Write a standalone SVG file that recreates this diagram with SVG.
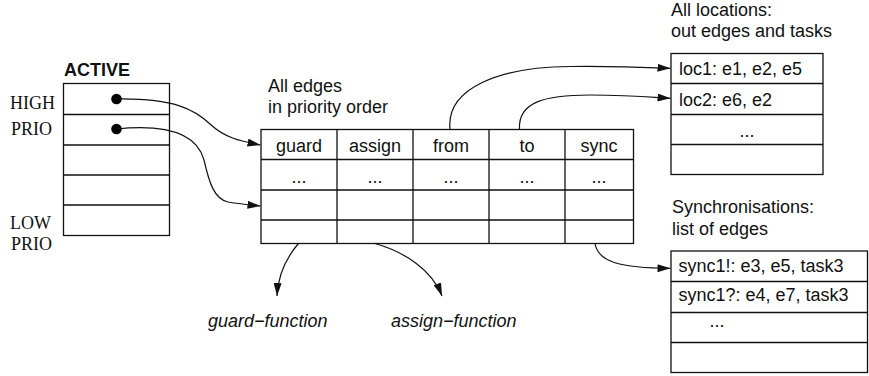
<svg xmlns="http://www.w3.org/2000/svg" width="869" height="376" viewBox="0 0 869 376">
  <style>
    .box { fill: #fff; stroke: #111; stroke-width: 1.3; }
    .ln { stroke: #111; stroke-width: 1.3; fill: none; }
    .t { font-family: "Liberation Sans", Arial, sans-serif; font-size: 18px; fill: #111; }
    .c { text-anchor: middle; }
    .b { font-weight: bold; }
    .i { font-style: italic; }
    .s { font-family: "Liberation Serif", "Times New Roman", serif; font-size: 18px; fill: #111; }
    .edge { fill: none; stroke: #111; stroke-width: 1.2; }
  </style>
  <defs>
    <marker id="arrow" viewBox="0 0 13 8" refX="13" refY="4" markerWidth="13" markerHeight="8" markerUnits="userSpaceOnUse" orient="auto">
      <path d="M0,0 L13,4 L0,8 Z" fill="#111"/>
    </marker>
  </defs>
  <rect width="869" height="376" fill="#fff"/>

  <!-- ACTIVE priority list -->
  <g id="active">
    <text class="t b" x="64" y="75.5">ACTIVE</text>
    <rect class="box" x="63.5" y="83.5" width="106" height="152"/>
    <path class="ln" d="M63.5,114.5 H169.5 M63.5,145 H169.5 M63.5,175 H169.5 M63.5,205 H169.5"/>
    <text class="s" x="10" y="108.5">HIGH</text>
    <text class="s" x="11" y="135">PRIO</text>
    <text class="s" x="10" y="228.5">LOW</text>
    <text class="s" x="11" y="250">PRIO</text>
    <circle cx="116.5" cy="99" r="5.3" fill="#000"/>
    <circle cx="116.5" cy="129" r="5.3" fill="#000"/>
  </g>

  <!-- Edge table -->
  <g id="edges">
    <text class="t" x="268" y="91.5">All edges</text>
    <text class="t" x="268" y="113">in priority order</text>
    <rect class="box" x="261" y="129.5" width="372.5" height="114"/>
    <path class="ln" d="M261,159.5 H633.5 M261,190 H633.5 M261,220 H633.5 M337,129.5 V243.5 M413,129.5 V243.5 M489,129.5 V243.5 M565,129.5 V243.5"/>
    <text class="t c" x="299" y="152">guard</text>
    <text class="t c" x="375" y="152">assign</text>
    <text class="t c" x="451" y="152">from</text>
    <text class="t c" x="527" y="152">to</text>
    <text class="t c" x="599" y="152">sync</text>
    <text class="t c" x="299" y="183">...</text>
    <text class="t c" x="375" y="183">...</text>
    <text class="t c" x="451" y="183">...</text>
    <text class="t c" x="527" y="183">...</text>
    <text class="t c" x="599" y="183">...</text>
  </g>

  <!-- Locations table -->
  <g id="locations">
    <text class="t" x="671" y="16">All locations:</text>
    <text class="t" x="671" y="36.5">out edges and tasks</text>
    <rect class="box" x="671" y="53.5" width="152" height="121"/>
    <path class="ln" d="M671,83.5 H823 M671,114.5 H823 M671,144.5 H823"/>
    <text class="t" x="679" y="75">loc1: e1, e2, e5</text>
    <text class="t" x="679" y="106">loc2: e6, e2</text>
    <text class="t c" x="747" y="137">...</text>
  </g>

  <!-- Synchronisation table -->
  <g id="syncs">
    <text class="t" x="672" y="213">Synchronisations:</text>
    <text class="t" x="672" y="235">list of edges</text>
    <rect class="box" x="671" y="251" width="196.5" height="121.5"/>
    <path class="ln" d="M671,281.5 H867.5 M671,312.5 H867.5 M671,342.5 H867.5"/>
    <text class="t" x="678.5" y="272">sync1!: e3, e5, task3</text>
    <text class="t" x="678.5" y="301">sync1?: e4, e7, task3</text>
    <text class="t c" x="717" y="327">...</text>
  </g>

  <!-- Function labels -->
  <g id="guard-function">
    <text class="t i" x="208" y="327">guard−function</text>
  </g>
  <g id="assign-function">
    <text class="t i" x="391" y="327">assign−function</text>
  </g>

  <!-- Connectors -->
  <g id="connectors">
    <path class="edge" marker-end="url(#arrow)" d="M116,99 C175,98 195,110 210,124 C225,138 240,141 260.5,145"/>
    <path class="edge" marker-end="url(#arrow)" d="M116,129 C175,123 198,138 204,160 C209,182 214,199 228,202 C240,204 250,205 260.5,206"/>
    <path class="edge" marker-end="url(#arrow)" d="M450,129 C446,88 500,67 570,66.5 C620,66 650,67.5 670.5,68.3"/>
    <path class="edge" marker-end="url(#arrow)" d="M519.5,129 C518,102 545,95 590,95 C630,95 650,97 670.5,98.3"/>
    <path class="edge" marker-end="url(#arrow)" d="M595,243.5 C598,262 620,268 670.5,268.3"/>
    <path class="edge" marker-end="url(#arrow)" d="M298.5,243.5 C286,258 278,276 277,296"/>
    <path class="edge" marker-end="url(#arrow)" d="M375,243.5 C405,252 432,270 442,296"/>
  </g>
</svg>
